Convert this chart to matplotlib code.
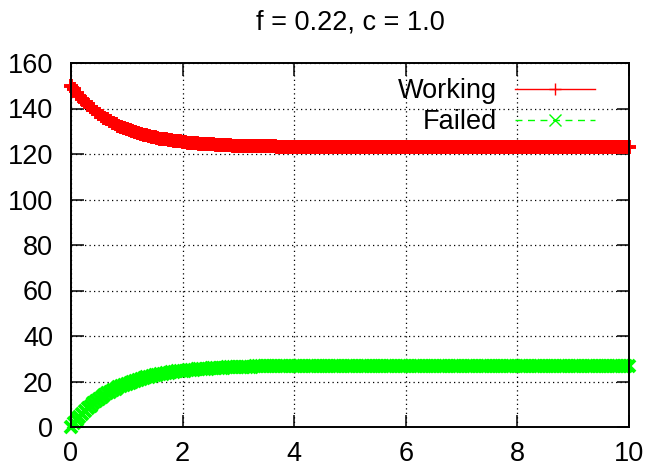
import numpy as np
import matplotlib
matplotlib.use("Agg")
import matplotlib.pyplot as plt

plt.rcParams['font.family'] = ['Liberation Sans', 'DejaVu Sans']

# Sample times, step 0.05 from 0 to 10
t = np.round(np.arange(201) * 0.05, 2)

working = [
    150.0, 148.4, 146.9, 145.5, 144.1, 142.9, 141.7, 140.6, 139.6, 138.6,
    137.6, 136.8, 136.0, 135.2, 134.5, 133.8, 133.1, 132.5, 132.0, 131.4,
    130.9, 130.5, 130.0, 129.6, 129.2, 128.8, 128.5, 128.2, 127.9, 127.6,
    127.3, 127.0, 126.8, 126.6, 126.4, 126.2, 126.0, 125.8, 125.6, 125.5,
    125.3, 125.2, 125.0, 124.9, 124.8, 124.7, 124.6, 124.5, 124.4, 124.3,
    124.2, 124.2, 124.1, 124.0, 124.0, 123.9, 123.8, 123.8, 123.7, 123.7,
    123.6, 123.6, 123.6, 123.5, 123.5, 123.5, 123.4, 123.4, 123.4, 123.4,
    123.3, 123.3, 123.3, 123.3, 123.2, 123.2, 123.2, 123.2, 123.2, 123.2,
    123.2, 123.1, 123.1, 123.1, 123.1, 123.1, 123.1, 123.1, 123.1, 123.1,
    123.1, 123.0, 123.0, 123.0, 123.0, 123.0, 123.0, 123.0, 123.0, 123.0,
    123.0, 123.0, 123.0, 123.0, 123.0, 123.0, 123.0, 123.0, 123.0, 123.0,
    123.0, 123.0, 123.0, 123.0, 123.0, 123.0, 123.0, 123.0, 123.0, 123.0,
    123.0, 123.0, 123.0, 123.0, 123.0, 123.0, 123.0, 123.0, 123.0, 123.0,
    123.0, 123.0, 123.0, 123.0, 123.0, 123.0, 123.0, 123.0, 123.0, 123.0,
    123.0, 123.0, 123.0, 123.0, 123.0, 123.0, 123.0, 123.0, 123.0, 123.0,
    123.0, 123.0, 123.0, 123.0, 123.0, 123.0, 123.0, 123.0, 123.0, 123.0,
    123.0, 123.0, 123.0, 123.0, 123.0, 123.0, 123.0, 123.0, 123.0, 123.0,
    123.0, 123.0, 123.0, 123.0, 123.0, 123.0, 123.0, 123.0, 123.0, 123.0,
    123.0, 123.0, 123.0, 123.0, 123.0, 123.0, 123.0, 123.0, 123.0, 123.0,
    123.0, 123.0, 123.0, 123.0, 123.0, 123.0, 123.0, 123.0, 123.0, 123.0,
    123.0,
]

failed = [
    0.0, 1.6, 3.1, 4.5, 5.9, 7.1, 8.3, 9.4, 10.4, 11.4,
    12.4, 13.2, 14.0, 14.8, 15.5, 16.2, 16.9, 17.5, 18.0, 18.6,
    19.1, 19.5, 20.0, 20.4, 20.8, 21.2, 21.5, 21.8, 22.1, 22.4,
    22.7, 23.0, 23.2, 23.4, 23.6, 23.8, 24.0, 24.2, 24.4, 24.5,
    24.7, 24.8, 25.0, 25.1, 25.2, 25.3, 25.4, 25.5, 25.6, 25.7,
    25.8, 25.8, 25.9, 26.0, 26.0, 26.1, 26.2, 26.2, 26.3, 26.3,
    26.4, 26.4, 26.4, 26.5, 26.5, 26.5, 26.6, 26.6, 26.6, 26.6,
    26.7, 26.7, 26.7, 26.7, 26.8, 26.8, 26.8, 26.8, 26.8, 26.8,
    26.8, 26.9, 26.9, 26.9, 26.9, 26.9, 26.9, 26.9, 26.9, 26.9,
    26.9, 27.0, 27.0, 27.0, 27.0, 27.0, 27.0, 27.0, 27.0, 27.0,
    27.0, 27.0, 27.0, 27.0, 27.0, 27.0, 27.0, 27.0, 27.0, 27.0,
    27.0, 27.0, 27.0, 27.0, 27.0, 27.0, 27.0, 27.0, 27.0, 27.0,
    27.0, 27.0, 27.0, 27.0, 27.0, 27.0, 27.0, 27.0, 27.0, 27.0,
    27.0, 27.0, 27.0, 27.0, 27.0, 27.0, 27.0, 27.0, 27.0, 27.0,
    27.0, 27.0, 27.0, 27.0, 27.0, 27.0, 27.0, 27.0, 27.0, 27.0,
    27.0, 27.0, 27.0, 27.0, 27.0, 27.0, 27.0, 27.0, 27.0, 27.0,
    27.0, 27.0, 27.0, 27.0, 27.0, 27.0, 27.0, 27.0, 27.0, 27.0,
    27.0, 27.0, 27.0, 27.0, 27.0, 27.0, 27.0, 27.0, 27.0, 27.0,
    27.0, 27.0, 27.0, 27.0, 27.0, 27.0, 27.0, 27.0, 27.0, 27.0,
    27.0, 27.0, 27.0, 27.0, 27.0, 27.0, 27.0, 27.0, 27.0, 27.0,
    27.0,
]

x_ticks = [0, 2, 4, 6, 8, 10]
y_ticks = [0, 20, 40, 60, 80, 100, 120, 140, 160]
title = "f = 0.22, c = 1.0"
FS = 19.5

fig = plt.figure(figsize=(6.5, 4.67), dpi=100)
ax = fig.add_axes([71 / 650, 40 / 467, 558 / 650, 364 / 467])

ax.plot(t, working, color='#ff0000', linestyle='-', linewidth=1,
        marker='+', markersize=9.6, markeredgewidth=2.8,
        clip_on=False, label='Working', zorder=3)
ax.plot(t, failed, color='#00ff00', linestyle=(0, (5, 4)), linewidth=1,
        marker='x', markersize=9.0, markeredgewidth=2.8,
        clip_on=False, label='Failed', zorder=3)

ax.set_xlim(0, 10)
ax.set_ylim(0, 160)
ax.set_xticks(x_ticks)
ax.set_yticks(y_ticks)

ax.grid(True, color='black', linestyle=(0, (1, 2.6)), linewidth=0.9)
ax.set_axisbelow(True)

for s in ax.spines.values():
    s.set_linewidth(1.4)
    s.set_zorder(4)

ax.tick_params(which='both', direction='in', length=9, width=1.1,
               top=True, right=True, labelsize=FS)
ax.tick_params(axis='y', pad=13)
ax.tick_params(axis='x', pad=10)

ax.set_title(title, fontsize=FS, pad=24)

leg = ax.legend(loc='upper right', bbox_to_anchor=(0.939, 0.958),
                markerfirst=False, frameon=False, fontsize=FS,
                handlelength=2.96, handletextpad=0.67, labelspacing=0.18,
                borderpad=0, borderaxespad=0, alignment='right')
for h in leg.legend_handles:
    h.set_markeredgewidth(1.0)
    h.set_markersize(9.0)

fig.savefig('out.png', dpi=100)
